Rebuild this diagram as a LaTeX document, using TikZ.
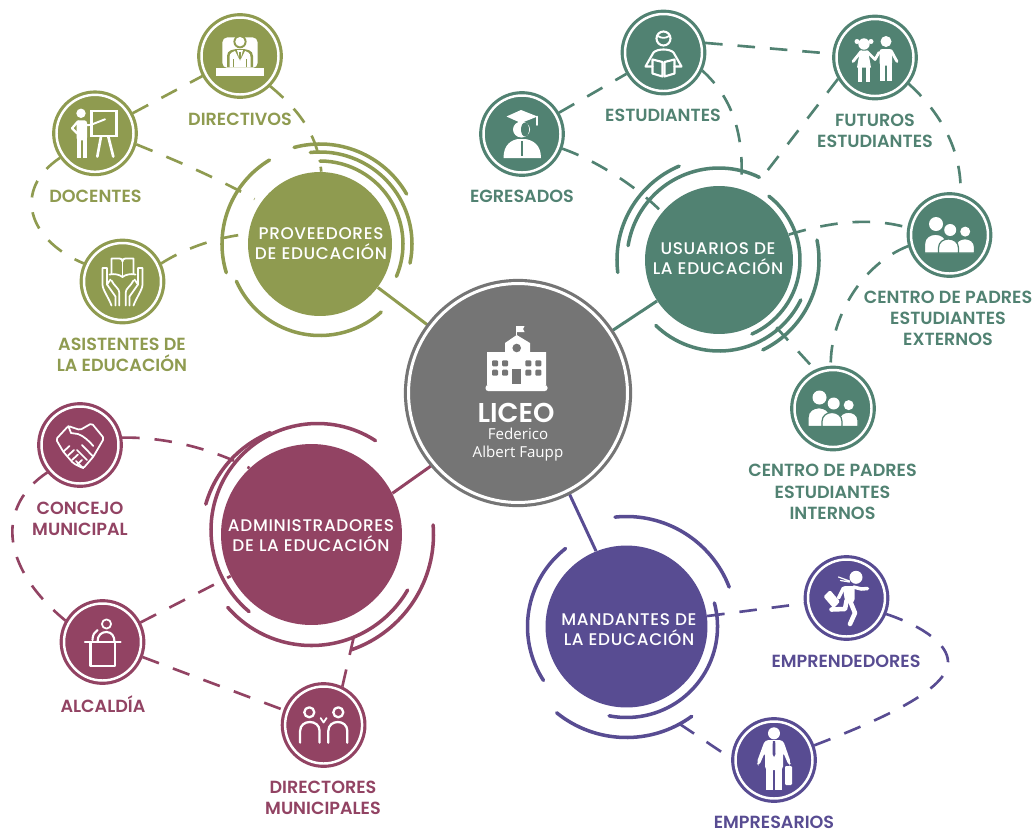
\documentclass[tikz,border=0pt]{standalone}
\usepackage{fontspec}
\setmainfont{Poppins SemiBold}
\newfontfamily\hubfont{Poppins Medium}[LetterSpace=4]
\newfontfamily\liceofont{Open Sans}
\usetikzlibrary{calc}
\usetikzlibrary{backgrounds}
\definecolor{provcol}{HTML}{8F9B50}
\definecolor{usucol}{HTML}{518272}
\definecolor{admcol}{HTML}{924363}
\definecolor{mancol}{HTML}{584C92}
\definecolor{liccol}{HTML}{757575}
\tikzset{
	hub/.style={circle, fill=#1, inner sep=0pt},
	hubtxt/.style={text=white, inner sep=0pt, align=center,
		font=\hubfont\fontsize{9.6}{11.3}\selectfont},
	sat/.style={circle, fill=#1, draw=#1, double=white, line width=1.8pt,
		double distance=1.4pt, minimum size=1.54cm, inner sep=0pt, outer sep=2.4pt},
	tag/.style={text=#1, inner sep=0pt, align=center,
		font=\fontsize{10}{12.1}\selectfont},
	ring/.style={draw=#1, line width=2pt, line cap=round},
	dashline/.style={draw=#1, line width=1.5pt, dash pattern=on 10pt off 8.5pt},
	hubline/.style={draw=#1, line width=1.7pt},
	wline/.style={draw=white, line width=1pt, line cap=round, line join=round},
	% the little white pictures inside the circles
	pics/schoolicon/.style={code={
		\fill[white] (-1.3,-58) -- (12,-50) -- (12,-41) -- (28,-41) -- (28,-8) -- (-31,-8)
			-- (-31,-41) -- (-13,-41) -- (-13,-50) -- cycle;
		\fill[white, rounded corners=1.5pt] (-32.5,-8) rectangle (29.5,-2);
		\draw[white, line width=.8pt] (-1.3,-58) -- (-1.3,-67);
		\fill[white] (-1.3,-67) -- (6.5,-67) -- (5,-64) -- (6.5,-61) -- (-1.3,-61) -- cycle;
		\fill[liccol] (-1.3,-45) circle (4.3);
		\foreach \wx in {-23,-13,10.3,20.3}
			\foreach \wy in {-29.7,-20.3}
				\fill[liccol, rounded corners=.6pt] (\wx-3,\wy-3) rectangle (\wx+3,\wy+3);
		\fill[liccol] (-6,-24) rectangle (3,-9);
	}},
	pics/deskicon/.style={code={
		\fill[white, rounded corners=3pt] (-17.7,-18.7) rectangle (17.7,12);
		\fill[provcol] (0,-14.3) circle (6.6);
		\fill[provcol] (-13,11.3) -- (-13,0) .. controls (-13,-6) and (-7,-7) .. (0,-7)
			.. controls (7,-7) and (13,-6) .. (13,0) -- (13,11.3) -- cycle;
		\fill[white] (0,-14.3) circle (4.7);
		\fill[white] (-10.5,11.3) -- (-10.5,1) .. controls (-10.5,-3) and (-7,-4.5) .. (-5,-5)
			-- (0,5) -- (5,-5) .. controls (7,-4.5) and (10.5,-3) .. (10.5,1) -- (10.5,11.3) -- cycle;
		\draw[provcol, line width=1pt] (-6.5,11.3) -- (-6.5,2.5) (6.5,11.3) -- (6.5,2.5);
		\fill[white] (-3,-6) -- (3,-6) -- (0,5) -- cycle;
		\draw[provcol, line width=.7pt] (0,-4) -- (0,3);
		\fill[white] (-24.3,11.6) rectangle (24,19.7);
	}},
	pics/boardicon/.style={code={
		\fill[white] (-14,-20) circle (4.7);
		\fill[white, rounded corners=1.5pt] (-18.5,-13) rectangle (-8,7);
		\fill[white] (-18.5,4) rectangle (-14,24.5);
		\fill[white] (-12.5,4) rectangle (-8,24.5);
		\draw[wline, line width=1.3pt] (-17,-12) -- (-23,-5) -- (-18,0);
		\draw[wline, line width=1.1pt] (-9,-8) -- (-4,-8.5) -- (10,-14);
		\draw[white, line width=1.2pt] (-3.5,-22.5) rectangle (21.5,2.8);
		\draw[wline, line width=1.5pt] (6,3.3) -- (2.3,23.3) (13.3,3.3) -- (18.3,23.3);
	}},
	pics/handsicon/.style={code={
		\draw[wline] (-11,-7.5) -- (-11,-23) -- (-3,-23) .. controls (-1,-23) and (0,-22) .. (0,-20)
			.. controls (0,-22) and (1,-23) .. (3,-23) -- (11,-23) -- (11,-7.5);
		\draw[wline] (0,-20) -- (0,-6);
		\draw[wline] (-13,-7) .. controls (-8,-8) and (-3,-7) .. (0,-4.5)
			.. controls (3,-7) and (8,-8) .. (13,-7);
		\foreach \s in {-1,1} {
			\begin{scope}[xscale=\s]
				\draw[wline] (-3.2,24) -- (-3.2,11) .. controls (-3.2,7) and (-8,5) .. (-11,-1);
				\draw[wline] (-7,24) -- (-7,15) -- (-15.5,3) -- (-15.5,-13.5) -- (-20,-13.5) -- (-20,3)
					.. controls (-20,8) and (-14,16) .. (-11,24);
				\draw[wline] (-15.5,3) -- (-12,-2);
			\end{scope}
		}
	}},
	pics/shakeicon/.style={code={
		\draw[wline, rounded corners=1pt] (-24,-5.7) -- (-11.7,-19) -- (0,-15) -- (11.7,-21.7) -- (24,-6.7)
			-- (13.3,11.7) -- (3.3,23.3) -- (-6.7,18.3) -- (-16.7,6.7) -- cycle;
		\draw[wline] (-11.7,-19) -- (-9,-12) -- (-2,-11) .. controls (4,-9) and (10,-3) .. (13.3,1);
		\draw[wline] (13.3,11.7) -- (2,0) (7,15) -- (-3,5) (3.3,23.3) -- (-4,16);
		\draw[wline] (-16.7,6.7) -- (-10.5,1) (-12,10.5) -- (-6,5) (-8,15) -- (-2,9.5) (-3,19.5) -- (2,15);
	}},
	pics/lecternicon/.style={code={
		\draw[wline] (4,-18) circle (4.6);
		\draw[wline, line width=1.2pt] (-17.5,0) -- (18,0);
		\draw[wline, line width=1.2pt] (-12,0) -- (-12,24) -- (12.5,24) -- (12.5,0);
		\draw[wline, line width=1.2pt] (-5,0) .. controls (-5,-7) and (-1,-10) .. (4,-10) .. controls (9,-10) and (12,-6) .. (12,0);
		\draw[wline, line width=1.2pt] (-10,-2) .. controls (-10,-7) and (-8,-10) .. (-5,-12);
	}},
	pics/coupleicon/.style={code={
		\draw[wline, line width=1.3pt] (-14.3,-12.7) circle (5);
		\draw[wline, line width=1.3pt] (14.7,-12.7) circle (5);
		\draw[wline, line width=1.3pt] (-23.5,17.7) -- (-23.5,6) .. controls (-23.5,-6) and (-4,-6) .. (-4,6) -- (-4,17.7);
		\draw[wline, line width=1.3pt] (4.7,17.7) -- (4.7,6) .. controls (4.7,-6) and (23.7,-6) .. (23.7,6) -- (23.7,17.7);
		\draw[wline] (-3,-7) -- (0,-2.5) -- (3,-7);
	}},
	pics/readericon/.style={code={
		\draw[wline, line width=1.2pt] (0,-14) circle (7);
		\draw[wline] (-5.5,-16.5) .. controls (-2,-14) and (2,-14) .. (5.5,-16.5);
		\draw[wline, line width=1.2pt] (-11,14) -- (-18,14) -- (-10,0) .. controls (-6,-4) and (6,-4) .. (10,0)
			-- (18,14) -- (11,14);
		\draw[wline, line width=1.2pt] (-11,7) -- (-1,9.5) -- (-1,24) -- (-11,21) -- cycle;
		\draw[wline, line width=1.2pt] (11,7) -- (1,9.5) -- (1,24) -- (11,21) -- cycle;
	}},
	pics/kidsicon/.style={code={
		\fill[white] (-11,-13.5) circle (5.7);
		\fill[white] (-18,-16) circle (2.5);
		\fill[white] (-4,-16) circle (2.5);
		\fill[white] (-15,-7) -- (-7,-7) -- (-4,10) -- (-18,10) -- cycle;
		\fill[white] (-17,9) rectangle (-13,24);
		\fill[white] (-9,9) rectangle (-5,24);
		\draw[wline, line width=1.6pt] (-14,-6) -- (-22,4) (-8,-6) -- (0,2) -- (4,-5);
		\fill[white] (11,-16) circle (5.5);
		\fill[white, rounded corners=1.5pt] (4.5,-8.5) rectangle (17,8);
		\fill[white] (4.5,5) rectangle (9.7,23);
		\fill[white] (12,5) rectangle (17,23);
		\draw[wline, line width=1.6pt] (16,-7) -- (22,4);
	}},
	pics/gradicon/.style={code={
		\fill[white] (-15.5,-17.5) -- (-1,-24) -- (15.5,-17.5) -- (-1,-11) -- cycle;
		\draw[wline] (15,-17.5) -- (15,-9);
		\fill[white] (-.5,-4.5) ellipse (8.5 and 8);
		\fill[usucol] (3,-4.5) ellipse (4 and 7);
		\fill[white] (-18.5,24) .. controls (-18.5,10) and (-10,6) .. (-4,5) -- (3,5)
			.. controls (10,6) and (19,10) .. (19,24) -- cycle;
		\draw[usucol, line width=.9pt] (0,7) -- (0,22);
	}},
	pics/parentsicon/.style={code={
		\fill[white] (-13.5,-11) circle (7);
		\fill[white] (.7,-5) circle (6);
		\fill[white] (15.7,-3.4) circle (5);
		\filldraw[fill=white, draw=usucol, line width=.7pt] (-25,18) -- (-25,9) .. controls (-25,-4) and (-3,-4) .. (-3,9) -- (-3,18) -- cycle;
		\filldraw[fill=white, draw=usucol, line width=.7pt] (6,18) -- (6,12) .. controls (6,1) and (25,1) .. (25,12) -- (25,18) -- cycle;
		\filldraw[fill=white, draw=usucol, line width=.7pt] (-11,18) -- (-11,13) .. controls (-11,1) and (9,1) .. (9,13) -- (9,18) -- cycle;
	}},
	pics/runnericon/.style={code={
		\fill[white] (9.5,-20.7) circle (6.5);
		\draw[wline, line width=.7pt] (3,-17) -- (-8,-21) (3,-16) -- (-6,-17.5);
		\fill[white, rounded corners=1.5pt] (-4,-12) -- (8,-12) -- (8,4) -- (-1,6) -- cycle;
		\draw[wline, line width=2pt] (7,-11) -- (15,-9) -- (21,-9.5);
		\draw[wline, line width=2pt] (-3,-10) -- (-8,0);
		\fill[white, rounded corners=.8pt] (-23,-1.3) -- (-16.5,-8) -- (-6.5,3.7) -- (-13,10.3) -- cycle;
		\draw[wline, line width=2.6pt] (0,3) -- (-1.5,11) -- (-15,11.5);
		\draw[wline, line width=2.6pt] (4,4) -- (8.5,15) -- (3.5,26);
	}},
	pics/suiticon/.style={code={
		\fill[white] (0,-26.7) circle (6);
		\fill[white, rounded corners=2pt] (-9,-20) -- (9,-20) -- (17,3) -- (15,6) -- (9,-8) -- (9,10) -- (-9,10) -- (-9,-8) -- (-15,6) -- (-17.5,3) -- cycle;
		\fill[white] (-8,8) rectangle (-1,30);
		\fill[white] (1,8) rectangle (8,30);
		\fill[mancol] (-1.2,-19) -- (1.2,-19) -- (1.5,-6) -- (0,-3) -- (-1.5,-6) -- cycle;
		\fill[white, rounded corners=.6pt] (11,6) rectangle (18,25);
	}},
}
\begin{document}
\begin{tikzpicture}[x=0.02cm, y=-0.02cm]
	\useasboundingbox (0,0) rectangle (1035,829);

	% the discs
	\node[hub=provcol, minimum size=2.88cm] (proveedores) at (320,244) {};
	\node[hub=usucol, minimum size=2.96cm] (usuarios) at (719,260) {};
	\node[hub=admcol, minimum size=3.62cm] (admin) at (311.5,534.5) {};
	\node[hub=mancol, minimum size=3.24cm] (mandantes) at (626.5,626.5) {};
	\node[circle, fill=liccol, draw=liccol, double=white, line width=1.8pt, double distance=1.7pt,
		minimum size=4.38cm, inner sep=0pt, outer sep=2pt] (liceo) at (518,393) {};

	\node[hubtxt] (protxt) at (321,243.5) {PROVEEDORES\\DE EDUCACIÓN};
	\node[hubtxt] (usutxt) at (718,259) {USUARIOS DE\\LA EDUCACIÓN};
	\node[hubtxt] (admtxt) at (311,536) {ADMINISTRADORES\\DE LA EDUCACIÓN};
	\node[hubtxt] (mantxt) at (629,630) {MANDANTES DE\\LA EDUCACIÓN};

	\node[sat=provcol] (directivos) at (240,56) {};
	\node[sat=provcol] (docentes) at (95,133.3) {};
	\node[sat=provcol] (asistentes) at (122.5,281.5) {};
	\node[sat=usucol] (estudiantes) at (663.5,52.5) {};
	\node[sat=usucol] (futuros) at (875,57.5) {};
	\node[sat=usucol] (egresados) at (522,134) {};
	\node[sat=usucol] (externos) at (949.5,235) {};
	\node[sat=usucol] (internos) at (833,408.5) {};
	\node[sat=admcol] (concejo) at (80,445) {};
	\node[sat=admcol] (alcaldia) at (102.5,642) {};
	\node[sat=admcol] (directores) at (323.6,725) {};
	\node[sat=mancol] (emprendedores) at (846.5,598) {};
	\node[sat=mancol] (empresarios) at (774,760) {};

	\begin{scope}[on background layer]
	\fill[white] (0,0) rectangle (1035,829);
	% lines to the middle
	\draw[hubline=provcol] (proveedores) -- (liceo);
	\draw[hubline=usucol] (usuarios) -- (liceo);
	\draw[hubline=admcol] (admin.27) -- (liceo.220);
	\draw[hubline=mancol] (liceo.-63) -- (mandantes.112);

	% dashed connectors
	\draw[dashline=provcol] (docentes) -- (directivos);
	\draw[dashline=provcol] (directivos.-45) .. controls (305,115) and (318,140) .. (proveedores.89);
	\draw[dashline=provcol, shorten >=4pt] (docentes.-15) .. controls (175,160) and (215,177) .. (proveedores.145);
	\draw[dashline=provcol] (docentes.215) .. controls (12,190) and (28,240) .. (asistentes.155);
	\draw[dashline=provcol] (asistentes.25) .. controls (190,245) and (225,236) .. (proveedores.172);

	\draw[dashline=usucol] (egresados) -- (estudiantes);
	\draw[dashline=usucol] (egresados.-20) .. controls (595,160) and (635,185) .. (usuarios.140);
	\draw[dashline=usucol] (estudiantes.-25) .. controls (735,100) and (745,140) .. (usuarios.73);
	\draw[dashline=usucol, shorten >=8pt] (futuros.210) -- (usuarios.65);
	\draw[dashline=usucol] (estudiantes.13) -- (futuros.175);
	\draw[dashline=usucol] (futuros.-38) .. controls (940,112) and (962,150) .. (externos.75);
	\draw[dashline=usucol] (usuarios.20) .. controls (830,222) and (870,217) .. (externos.170);
	\draw[dashline=usucol] (externos.195) .. controls (860,265) and (830,320) .. (internos.93);
	\draw[dashline=usucol, shorten <=8pt] (usuarios.-50) -- (internos.115);

	\draw[dashline=admcol] (concejo.10) .. controls (165,437) and (210,448) .. (admin.133);
	\draw[dashline=admcol] (concejo.220) .. controls (-2,505) and (-2,565) .. (alcaldia.150);
	\draw[dashline=admcol] (alcaldia) -- (admin);
	\draw[dashline=admcol] (alcaldia) -- (directores);
	\draw[dashline=admcol, shorten >=12pt] (directores.64) -- (admin.-58);

	\draw[dashline=mancol] (mandantes) -- (emprendedores);
	\draw[dashline=mancol] (emprendedores.-22) .. controls (925,627) and (948,645) .. (948,662)
		.. controls (948,690) and (880,720) .. (empresarios.20);
	\draw[dashline=mancol, shorten <=20pt] (mandantes.-73) -- (empresarios.178);
	\end{scope}

	% rings round the discs
	\draw[ring=provcol] (proveedores) ++(163:98) arc (163:239:98);
	\draw[ring=provcol] (proveedores) ++(48:91.5) arc (48:156:91.5);
	\draw[ring=provcol] (proveedores) ++(255:100) arc (255:330:100);
	\draw[ring=provcol] (proveedores) ++(264:92) arc (264:372:92);
	\draw[ring=provcol] (proveedores) ++(270:83) arc (270:383:83);

	\draw[ring=usucol] (usuarios) ++(173:102) arc (173:247:102);
	\draw[ring=usucol] (usuarios) ++(189:92) arc (189:296:92);
	\draw[ring=usucol] (usuarios) ++(-52:81) arc (-52:66:81);
	\draw[ring=usucol] (usuarios) ++(-11.5:100) arc (-11.5:64:100);
	\draw[ring=usucol] (usuarios) ++(26:91) arc (26:134:91);

	\draw[ring=admcol] (admin) ++(196:110) arc (196:248:110);
	\draw[ring=admcol] ($(admin)+(6,-4.5)$) ++(130:106.5) arc (130:303:106.5);
	\draw[ring=admcol] (admin) ++(30:111) arc (30:139:111);
	\draw[ring=admcol] (admin) ++(-4.5:122) arc (-4.5:70.7:122);

	\draw[ring=mancol] (mandantes) ++(264:110) arc (264:339:110);
	\draw[ring=mancol] (mandantes) ++(147:99) arc (147:232:99);
	\draw[ring=mancol] (mandantes) ++(54:111) arc (54:129:111);
	\draw[ring=mancol] (mandantes) ++(-15:91) arc (-15:101:91);

	\pic at (liceo) {schoolicon};
	\node[text=white, inner sep=0pt, text height=11pt, text depth=0pt, font=\fontsize{15.5}{15.5}\selectfont] (liceoname)
		at (516,413) {LICEO};
	\node[text=white, inner sep=0pt, align=center, font=\liceofont\fontsize{8.6}{10.2}\selectfont] (liceosub)
		at (518,445) {Federico\\Albert Faupp};

	\pic at (directivos) {deskicon};
	\pic at (docentes) {boardicon};
	\pic at (asistentes) {handsicon};
	\pic at (concejo) {shakeicon};
	\pic at (alcaldia) {lecternicon};
	\pic at (directores) {coupleicon};
	\pic at (estudiantes) {readericon};
	\pic at (futuros) {kidsicon};
	\pic at (egresados) {gradicon};
	\pic at (externos) {parentsicon};
	\pic at (internos) {parentsicon};
	\pic at (emprendedores) {runnericon};
	\pic at (empresarios) {suiticon};

	% labels
	\node[tag=provcol] (ldirectivos) at (240,119) {DIRECTIVOS};
	\node[tag=provcol] (ldocentes) at (95.5,196) {DOCENTES};
	\node[tag=provcol] (lasistentes) at (122,354.5) {ASISTENTES DE\\LA EDUCACIÓN};
	\node[tag=usucol] (lestudiantes) at (663,115.5) {ESTUDIANTES};
	\node[tag=usucol] (lfuturos) at (875,130.5) {FUTUROS\\ESTUDIANTES};
	\node[tag=usucol] (legresados) at (522,196) {EGRESADOS};
	\node[tag=usucol] (lexternos) at (948,318.5) {CENTRO DE PADRES\\ESTUDIANTES\\EXTERNOS};
	\node[tag=usucol] (linternos) at (832.5,492) {CENTRO DE PADRES\\ESTUDIANTES\\INTERNOS};
	\node[tag=admcol] (lconcejo) at (80,518.5) {CONCEJO\\MUNICIPAL};
	\node[tag=admcol] (lalcaldia) at (103,704) {ALCALDÍA};
	\node[tag=admcol] (ldirectores) at (323,797.5) {DIRECTORES\\MUNICIPALES};
	\node[tag=mancol] (lemprendedores) at (846,661) {EMPRENDEDORES};
	\node[tag=mancol, text height=7pt, text depth=0pt] (lempresarios) at (774,822) {EMPRESARIOS};
\end{tikzpicture}
\end{document}
